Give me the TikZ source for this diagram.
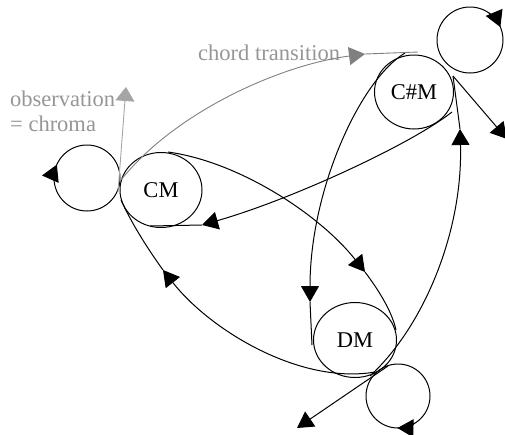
\documentclass[tikz,border=0pt]{standalone}
\usepackage{fontspec}
\setmainfont{Liberation Serif}
\usetikzlibrary{arrows.meta,shapes.geometric}
\definecolor{txtgray}{RGB}{150,150,150}
\definecolor{chordgray}{RGB}{128,128,128}
\definecolor{obsgray}{RGB}{165,165,165}
\tikzset{
  state/.style={draw=black,line width=1pt,ellipse,inner sep=0pt,minimum width=82pt,minimum height=75pt,font=\fontsize{22.5}{26}\selectfont},
  loopc/.style={draw=black,line width=1pt,circle,inner sep=0pt,minimum size=#1},
  tip/.style={-{Triangle[length=16pt,width=18pt]}},
  edge/.style={draw=black,line width=1pt},
  lbl/.style={text=txtgray,font=\fontsize{22.5}{26}\selectfont,inner sep=0pt},
}
\begin{document}
\begin{tikzpicture}[x=1pt,y=-1pt]
\useasboundingbox (0,0) rectangle (505,434);
% states
\node[state] (CM) at (161,190) {CM};
\node[state,minimum width=79pt,minimum height=74pt] (CSM) at (414,92) {C\#M};
\node[state,minimum width=83pt] (DM) at (355,340) {DM};
% self-loops
\node[loopc=66pt] (LCM) at (87,178) {};
\node[loopc=66pt] (LCSM) at (470,40) {};
\node[loopc=64pt] (LDM) at (398,396) {};
\draw[edge,tip] (LCM.center) ++(175:33) arc[start angle=175,end angle=204,radius=33];
\draw[edge,tip] (LCSM.center) ++(305:33) arc[start angle=305,end angle=337,radius=33];
\draw[edge,tip] (LDM.center) ++(58:32) arc[start angle=58,end angle=91,radius=32];
% labels
\node[lbl,anchor=base west] (obs1) at (10,106) {observation};
\node[lbl,anchor=base west] (obs2) at (10,131) {= chroma};
\node[lbl,anchor=base west] (chord) at (198,60) {chord transition};
% coordinates on the borders and at the arrow tips
\coordinate (a1) at (168,152); \coordinate (t1) at (365,272); \coordinate (b1) at (396,330);
\coordinate (a2) at (452,112); \coordinate (t2) at (202,225); \coordinate (b2) at (150,226);
\coordinate (a3) at (370,376); \coordinate (t3) at (460,129); \coordinate (b3) at (453,76);
\coordinate (a4) at (405,53);  \coordinate (t4) at (310,302); \coordinate (b4) at (312,345);
\coordinate (a5) at (375,372); \coordinate (t5) at (163,270); \coordinate (b5) at (121,200);
\coordinate (ac) at (121,180); \coordinate (tc) at (365,54);  \coordinate (bc) at (418,52);
\coordinate (ao) at (118,192); \coordinate (to) at (126,87);
\coordinate (aod) at (388,366); \coordinate (tod) at (297,428);
\coordinate (aoc) at (453,76); \coordinate (toc) at (507,139);
% CM -> DM
\draw[edge,tip] (a1) .. controls (240,162) and (320,215) .. (t1);
\draw[edge] (t1) .. controls (380,292) and (392,312) .. (b1);
% C#M -> CM
\draw[edge,tip] (a2) .. controls (410,145) and (290,200) .. (t2);
\draw[edge] (t2) -- (b2);
% DM -> C#M
\draw[edge,tip] (a3) .. controls (425,325) and (463,230) .. (t3);
\draw[edge] (t3) -- (b3);
% C#M -> DM
\draw[edge,tip] (a4) .. controls (360,80) and (310,190) .. (t4);
\draw[edge] (t4) -- (b4);
% DM -> CM
\draw[edge,tip] (a5) .. controls (300,385) and (210,330) .. (t5);
\draw[edge] (t5) .. controls (145,245) and (130,220) .. (b5);
% chord transition (grey)
\draw[draw=chordgray,line width=0.9pt,tip] (ac) .. controls (175,112) and (280,65) .. (tc);
\draw[draw=chordgray,line width=0.9pt] (tc) -- (bc);
% observation (grey)
\draw[draw=obsgray,line width=0.9pt,-{Triangle[length=14pt,width=19pt]}] (ao) -- (to);
% outgoing observation arrows of C#M and DM
\draw[edge,tip] (aod) -- (tod);
\draw[edge,tip] (aoc) -- (toc);
\end{tikzpicture}
\end{document}
